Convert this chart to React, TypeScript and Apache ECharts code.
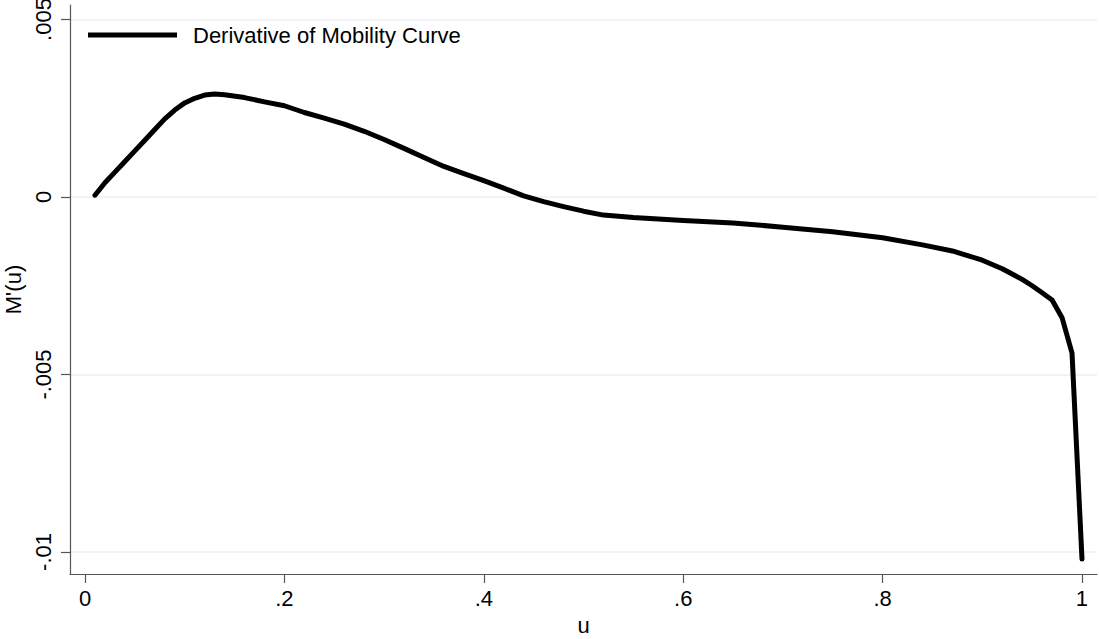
import React, { useEffect, useRef } from "react";
import * as echarts from "echarts";

// u values and derivative of mobility curve M'(u)
const uValues = [
  0.01, 0.02, 0.03, 0.04, 0.05, 0.06, 0.07, 0.08, 0.09, 0.1, 0.11, 0.12, 0.13,
  0.14, 0.16, 0.18, 0.2, 0.22, 0.24, 0.26, 0.28, 0.3, 0.32, 0.34, 0.36, 0.38,
  0.4, 0.42, 0.44, 0.46, 0.48, 0.5, 0.52, 0.55, 0.6, 0.65, 0.7, 0.75, 0.8,
  0.84, 0.87, 0.9, 0.92, 0.94, 0.95, 0.96, 0.97, 0.98, 0.99, 1.0,
];
const derivValues = [
  0.00005, 0.0004, 0.0007, 0.001, 0.0013, 0.0016, 0.0019, 0.0022, 0.00245,
  0.00265, 0.00278, 0.00287, 0.0029, 0.00288, 0.0028, 0.00268, 0.00257,
  0.00238, 0.00222, 0.00205, 0.00185, 0.00162, 0.00137, 0.00111, 0.00086,
  0.00066, 0.00046, 0.00025, 0.00003, -0.00013, -0.00027, -0.0004, -0.00051,
  -0.00058, -0.00066, -0.00073, -0.00085, -0.00098, -0.00115, -0.00135,
  -0.00152, -0.00178, -0.00202, -0.00232, -0.0025, -0.0027, -0.0029, -0.0034,
  -0.0044, -0.0102,
];
const xTickValues = [0, 0.2, 0.4, 0.6, 0.8, 1];
const yTickValues = [-0.01, -0.005, 0, 0.005];
const seriesName = "Derivative of Mobility Curve";
const xTitle = "u";
const yTitle = "M'(u)";

const fmt = (v: number) => {
  const s = String(Number(v.toPrecision(6)));
  return s.replace(/^(-?)0\./, "$1.");
};

const FONT = "'Liberation Sans', Arial, Helvetica, sans-serif";

export default function App() {
  const ref = useRef<HTMLDivElement>(null);
  useEffect(() => {
    document.body.style.margin = "0";
    const chart = echarts.init(ref.current!, null, { renderer: "svg" });
    const data = uValues.map((u, i) => [u, derivValues[i]]);
    chart.setOption({
      animation: false,
      backgroundColor: "#ffffff",
      textStyle: { fontFamily: FONT },
      grid: {
        left: 70,
        right: 2,
        top: 5,
        bottom: 65,
        containLabel: false,
        outerBoundsMode: "none",
      },
      legend: {
        show: true,
        left: 88,
        top: 24,
        padding: 0,
        icon: "rect",
        itemWidth: 89,
        itemHeight: 5,
        itemGap: 0,
        textStyle: {
          fontFamily: FONT,
          fontSize: 22,
          color: "#000",
          padding: [0, 0, 0, 11],
        },
        data: [seriesName],
      },
      xAxis: {
        type: "value",
        min: -0.01505,
        max: 1.01505,
        name: xTitle,
        nameLocation: "middle",
        nameGap: 40,
        nameTextStyle: { fontFamily: FONT, fontSize: 22, color: "#000" },
        axisLine: { show: true, onZero: false, lineStyle: { color: "#555", width: 1.2 } },
        axisTick: {
          show: true,
          length: 9,
          customValues: xTickValues,
          lineStyle: { color: "#555", width: 1.2 },
        },
        axisLabel: {
          show: true,
          customValues: xTickValues,
          formatter: fmt,
          margin: 13,
          fontFamily: FONT,
          fontSize: 22,
          color: "#000",
        },
        splitLine: { show: false },
      },
      yAxis: {
        type: "value",
        min: -0.01062,
        max: 0.005408,
        name: yTitle,
        nameLocation: "middle",
        nameRotate: 90,
        nameGap: 45,
        nameTextStyle: { fontFamily: FONT, fontSize: 22, color: "#000" },
        axisLine: { show: true, onZero: false, lineStyle: { color: "#555", width: 1.2 } },
        axisTick: {
          show: true,
          length: 9,
          customValues: yTickValues,
          lineStyle: { color: "#555", width: 1.2 },
        },
        axisLabel: {
          show: true,
          customValues: yTickValues,
          formatter: fmt,
          rotate: 90,
          margin: 16,
          fontFamily: FONT,
          fontSize: 22,
          color: "#000",
        },
        splitLine: { show: true, lineStyle: { color: "#eceff7", width: 1.5 } },
      },
      series: [
        {
          name: seriesName,
          type: "line",
          data,
          showSymbol: false,
          symbol: "none",
          smooth: false,
          clip: false,
          color: "#000",
          lineStyle: { color: "#000", width: 5, cap: "round", join: "round" },
        },
      ],
    });
    return () => chart.dispose();
  }, []);
  return <div ref={ref} style={{ width: 1099, height: 639 }} />;
}
